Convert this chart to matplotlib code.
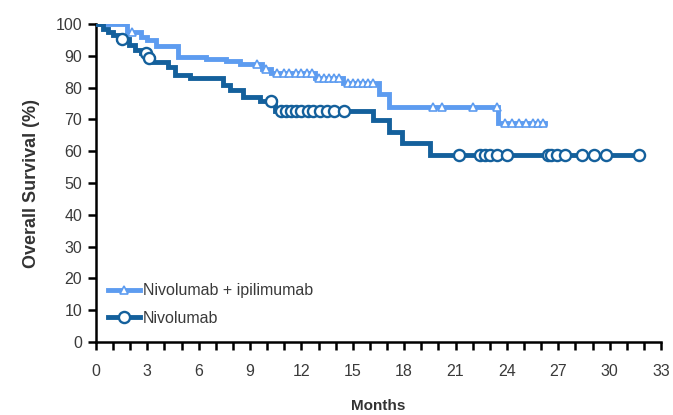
import numpy as np
import matplotlib
matplotlib.use("Agg")
import matplotlib.pyplot as plt
from matplotlib.lines import Line2D
from matplotlib.ticker import MultipleLocator

plt.rcParams['font.family'] = ['Liberation Sans', 'DejaVu Sans']

# Nivolumab (dark)
nivo_t = [0, 0.4, 0.7, 1.0, 1.3, 1.9, 2.3, 2.6, 3.0, 3.3, 4.2, 4.6, 5.5, 7.4, 7.8, 8.6, 9.6, 10.45, 16.2, 17.1, 17.9, 19.5, 31.7]
nivo_s = [100, 98.5, 97.5, 96.5, 95.3, 93.4, 91.8, 90.9, 89.3, 88.0, 86.5, 84.0, 83.0, 80.8, 79.2, 77.0, 75.8, 72.5, 69.8, 66.0, 62.6, 58.8, 58.8]
nivo_cens = [1.5, 2.9, 3.1, 10.2, 10.8, 11.1, 11.4, 11.7, 12.0, 12.4, 12.7, 13.1, 13.5, 13.9, 14.5,
             21.2, 22.4, 22.7, 23.0, 23.4, 24.0, 26.4, 26.6, 26.9, 27.4, 28.4, 29.1, 29.8, 31.7]

# Nivolumab + ipilimumab (light)
combo_t = [0, 1.8, 2.6, 3.0, 3.5, 4.8, 6.4, 7.6, 8.4, 9.7, 10.2, 12.8, 14.4, 16.5, 17.1, 23.5, 26.2]
combo_s = [100, 97.5, 96.0, 95.0, 93.0, 89.6, 89.0, 88.3, 87.5, 86.0, 84.6, 83.0, 81.4, 78.0, 74.0, 69.0, 69.0]
combo_cens = [2.1, 9.4, 9.9, 10.6, 11.0, 11.3, 11.7, 12.0, 12.3, 12.6, 13.0, 13.3, 13.6, 13.9, 14.2,
              14.7, 15.0, 15.3, 15.6, 15.9, 16.2, 19.7, 20.2, 22.0, 23.4,
              23.9, 24.3, 24.7, 25.1, 25.5, 25.8, 26.1]

labels = ["Nivolumab + ipilimumab", "Nivolumab"]
x_major = [0, 3, 6, 9, 12, 15, 18, 21, 24, 27, 30, 33]
y_major = [0, 10, 20, 30, 40, 50, 60, 70, 80, 90, 100]

light = '#5d9cf0'
dark = '#14609c'


def step_at(t, s, q):
    t = np.asarray(t); s = np.asarray(s)
    idx = np.searchsorted(t, q, side='right') - 1
    return s[np.clip(idx, 0, len(s) - 1)]


fig = plt.figure(figsize=(6.73, 4.15), dpi=100)
ax = fig.add_axes([96 / 673, 1 - 342 / 415, 565 / 673, 318 / 415])

ax.step(combo_t, combo_s, where='post', color=light, lw=3.5, solid_joinstyle='miter', zorder=3)
ax.plot(combo_cens, step_at(combo_t, combo_s, combo_cens), ls='none', marker='^', ms=5.5,
        mfc='white', mec=light, mew=1.2, zorder=4)
ax.step(nivo_t, nivo_s, where='post', color=dark, lw=3.5, solid_joinstyle='miter', zorder=5)
ax.plot(nivo_cens, step_at(nivo_t, nivo_s, nivo_cens), ls='none', marker='o', ms=8,
        mfc='white', mec=dark, mew=1.7, zorder=6)

ax.set_xlim(0, 33)
ax.set_ylim(0, 100)
ax.set_xticks(x_major)
ax.xaxis.set_minor_locator(MultipleLocator(1))
ax.set_yticks(y_major)
for sp in ['top', 'right']:
    ax.spines[sp].set_visible(False)
for sp in ['left', 'bottom']:
    ax.spines[sp].set_linewidth(1.8)
    ax.spines[sp].set_clip_on(False)
ax.tick_params(axis='both', which='both', direction='out', width=1.8, length=6,
               labelsize=11.5, labelcolor='#3a3a3a', color='black')
ax.tick_params(axis='x', pad=10)
ax.tick_params(axis='y', pad=4)

ax.set_ylabel("Overall Survival (%)", fontsize=13, fontweight='bold', color='#333333', labelpad=11)
ax.set_xlabel("Months", fontsize=11, fontweight='bold', color='#333333', labelpad=14)

handles = [
    Line2D([], [], color=light, lw=3.5, marker='^', ms=6, mfc='white', mec=light, mew=1.2),
    Line2D([], [], color=dark, lw=3.5, marker='o', ms=8, mfc='white', mec=dark, mew=1.7),
]
leg = ax.legend(handles, labels, loc='lower left', bbox_to_anchor=(0.01, 0.03), frameon=False,
                fontsize=11.5, handlelength=2.0, handletextpad=0.2, labelspacing=0.8,
                borderaxespad=0.0)
for t in leg.get_texts():
    t.set_color('#3a3a3a')

fig.savefig("out.png", dpi=100)
